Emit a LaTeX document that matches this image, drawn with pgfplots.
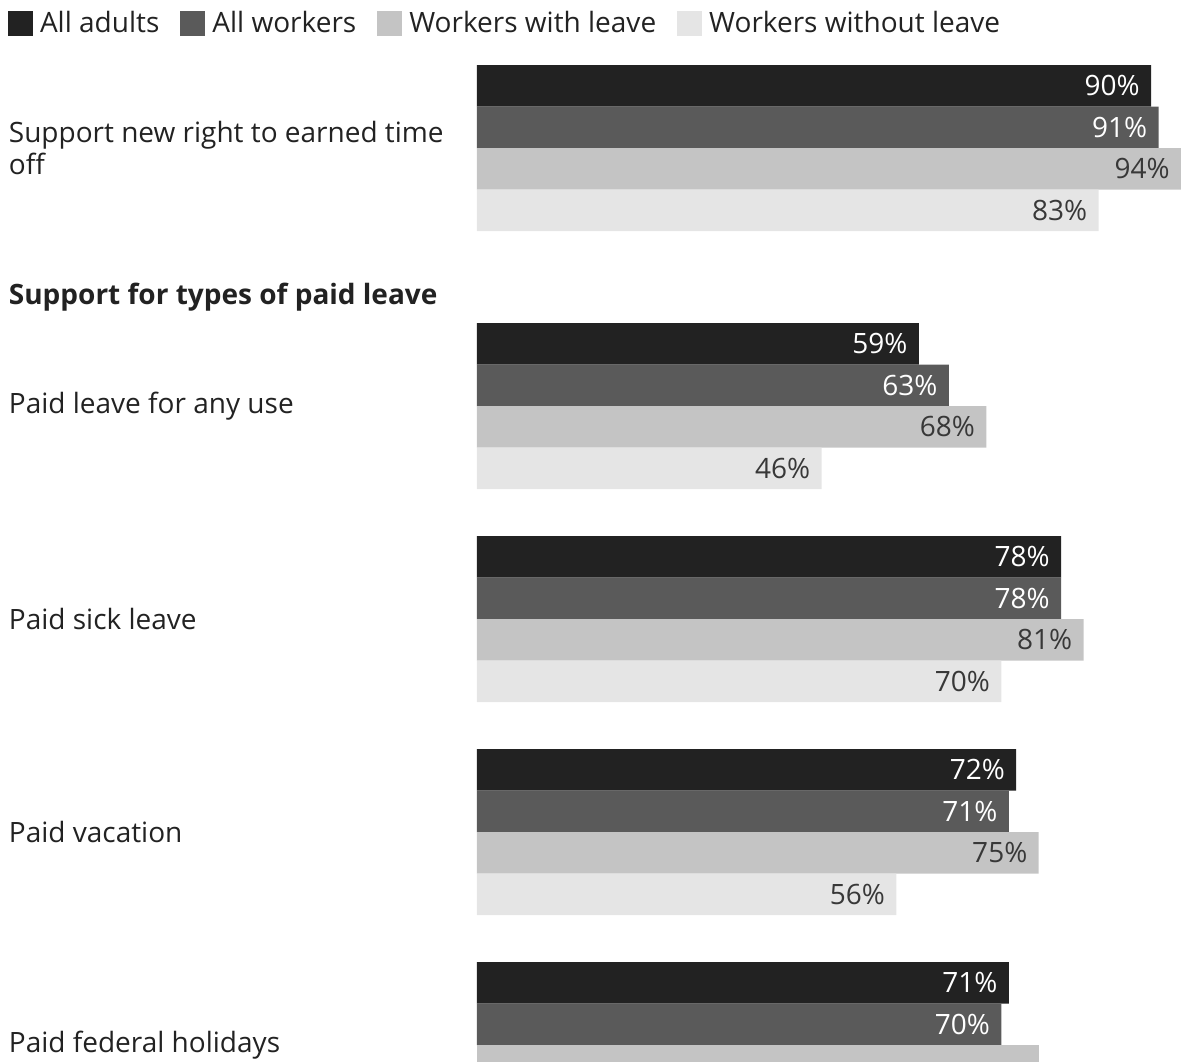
\documentclass[border=0pt]{standalone}
\usepackage{fontspec}
\setmainfont{Open Sans}
\usepackage{pgfplots}
\pgfplotsset{compat=1.18}
\definecolor{cA}{HTML}{222222}
\definecolor{cB}{HTML}{5A5A5A}
\definecolor{cC}{HTML}{C4C4C4}
\definecolor{cD}{HTML}{E5E5E5}
\definecolor{txt}{HTML}{222222}
\definecolor{lbl}{HTML}{383838}
\newcommand{\fs}{\fontsize{14}{16}\selectfont}
\begin{document}
\begin{tikzpicture}
\useasboundingbox (0,0) rectangle (590.5pt,-530.5pt);
\clip (0,0) rectangle (590.5pt,-530.5pt);
\begin{axis}[
  at={(0,0)}, anchor=north west,
  scale only axis, width=590.5pt, height=530.5pt,
  xmin=-63.685, xmax=94, ymin=-1061, ymax=0,
  axis lines=none, clip=false,
  xbar,
  every axis plot/.append style={bar shift=0pt, bar width=41.5, draw=none},
  point meta=x,
  /pgf/number format/assume math mode=true,
  nodes near coords={\pgfmathprintnumber{\pgfplotspointmeta}\%},
  nodes near coords style={anchor=east, inner sep=0pt, xshift=-5.5pt, font=\fs},
  legend columns=4,
  legend style={draw=none, fill=none, inner sep=0pt, outer sep=0pt,
    at={(rel axis cs:0.00677,0.98963)}, anchor=north west,
    font=\fs, text=txt,
    nodes={inner sep=0pt, outer sep=0pt},
    /tikz/every odd column/.append style={column sep=3.5pt},
    /tikz/every even column/.append style={column sep=10.5pt}},
  legend image code/.code={\fill[#1] (0pt,-6.25pt) rectangle (12.5pt,6.25pt);},
]
\addplot[xbar, fill=cA, bar shift=0pt, every node near coord/.append style={text=white}]
  coordinates {(90,-85.75) (59,-343.75) (78,-556.75) (72,-769.75) (71,-982.75)};
\addplot[xbar, fill=cB, bar shift=0pt, every node near coord/.append style={text=white}]
  coordinates {(91,-127.25) (63,-385.25) (78,-598.25) (71,-811.25) (70,-1024.25)};
\addplot[xbar, fill=cC, bar shift=0pt, every node near coord/.append style={text=lbl}]
  coordinates {(94,-168.75) (68,-426.75) (81,-639.75) (75,-852.75)};
\addplot[xbar, fill=cD, bar shift=0pt, every node near coord/.append style={text=lbl}]
  coordinates {(83,-210.25) (46,-468.25) (70,-681.25) (56,-894.25)};
\addplot[xbar, fill=cC, bar shift=0pt, nodes near coords={}, forget plot]
  coordinates {(75,-1065.75)};
\legend{All adults, All workers, Workers with leave, Workers without leave}
\node[anchor=west, inner sep=0pt, align=left, font=\fs, text=txt] at (axis cs:-62.55,-148) {Support new right to earned time\\off};
\node[anchor=west, inner sep=0pt, font=\fs\bfseries, text=txt] at (axis cs:-62.55,-297) {Support for types of paid leave};
\node[anchor=west, inner sep=0pt, font=\fs, text=txt] at (axis cs:-62.55,-406) {Paid leave for any use};
\node[anchor=west, inner sep=0pt, font=\fs, text=txt] at (axis cs:-62.55,-619) {Paid sick leave};
\node[anchor=west, inner sep=0pt, font=\fs, text=txt] at (axis cs:-62.55,-832) {Paid vacation};
\node[anchor=west, inner sep=0pt, font=\fs, text=txt] at (axis cs:-62.55,-1045) {Paid federal holidays};
\end{axis}
\end{tikzpicture}
\end{document}
